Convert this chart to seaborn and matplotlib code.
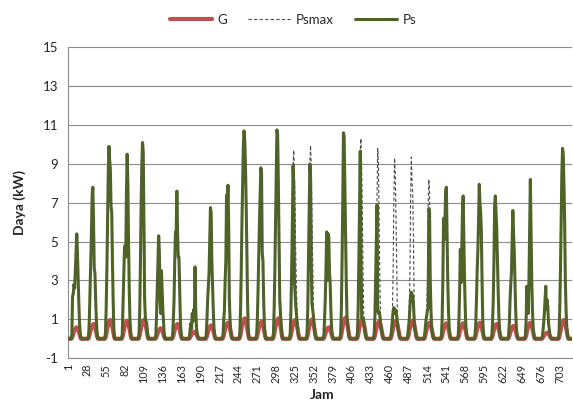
import numpy as np
import pandas as pd
import matplotlib
matplotlib.use("Agg")
import matplotlib.pyplot as plt
import seaborn as sns

# ---------------- data ----------------
N_DAYS = 30
DAY_START = 6          # first daylight hour (local) of the listed values

# Ps, daylight values per day (local hours 6..19), kW
ps_d00 = [0.2, 2.2, 2.3, 2.8, 2.6, 3.5, 4.5, 5.4, 4.4, 3.0, 1.8, 0.8, 0.3, 0]
ps_d01 = [0.2, 1.0, 2.5, 4.0, 5.5, 7.4, 7.8, 6.0, 3.6, 3.4, 2.0, 1.0, 0.3, 0]
ps_d02 = [0.3, 1.5, 3.5, 6.0, 8.5, 9.9, 9.2, 8.7, 6.8, 6.5, 4.0, 2.0, 0.5, 0]
ps_d03 = [0.2, 1.5, 3.0, 4.4, 4.8, 4.2, 7.5, 9.5, 8.0, 5.0, 2.5, 1.0, 0.3, 0]
ps_d04 = [0.2, 1.5, 4.0, 7.0, 9.0, 10.1, 9.6, 6.0, 2.0, 1.1, 0.9, 0.8, 0.3, 0]
ps_d05 = [0.2, 1.2, 2.5, 4.0, 5.3, 4.5, 2.0, 1.3, 3.5, 2.5, 1.5, 0.8, 0.2, 0]
ps_d06 = [0.2, 1.0, 2.0, 4.0, 5.5, 5.3, 7.6, 5.5, 4.2, 4.2, 2.5, 1.0, 0.3, 0]
ps_d07 = [0.1, 0.5, 0.8, 0.5, 1.3, 0.9, 1.5, 1.0, 3.7, 1.5, 0.6, 0.3, 0.1, 0]
ps_d08 = [0.2, 1.0, 2.0, 2.7, 3.4, 5.0, 6.75, 6.5, 4.0, 2.7, 1.5, 0.6, 0.2, 0]
ps_d09 = [0.2, 1.0, 1.5, 3.0, 4.0, 7.4, 6.5, 7.9, 6.0, 2.0, 1.0, 0.4, 0.1, 0]
ps_d10 = [0.3, 1.5, 3.5, 6.0, 8.0, 10.0, 10.7, 10.2, 9.0, 7.0, 4.5, 2.0, 0.5, 0]
ps_d11 = [0.2, 1.0, 2.5, 4.4, 6.0, 7.5, 8.8, 8.5, 4.4, 4.0, 2.0, 0.8, 0.2, 0]
ps_d12 = [0.3, 1.5, 3.5, 6.1, 8.5, 10.75, 10.5, 8.0, 5.0, 2.0, 1.3, 0.8, 0.2, 0]
ps_d13 = [0.3, 1.5, 3.5, 6.0, 8.9, 8.0, 3.0, 2.3, 1.6, 1.2, 0.8, 0.4, 0.1, 0]
ps_d14 = [0.3, 1.5, 4.0, 6.5, 9.0, 8.5, 4.0, 1.8, 1.5, 1.2, 0.8, 0.4, 0.1, 0]
ps_d15 = [0.2, 1.0, 2.0, 3.5, 5.5, 3.0, 5.4, 5.3, 3.5, 2.9, 1.5, 0.6, 0.2, 0]
ps_d16 = [0.3, 1.5, 4.0, 7.0, 10.6, 10.4, 8.0, 5.5, 3.0, 1.2, 0.8, 0.4, 0.1, 0]
ps_d17 = [0.3, 1.5, 4.0, 7.0, 9.65, 5.0, 1.1, 1.0, 1.1, 0.8, 0.6, 0.3, 0.1, 0]
ps_d18 = [0.3, 1.2, 3.0, 5.0, 6.9, 1.5, 1.3, 1.4, 1.2, 0.8, 0.5, 0.3, 0.1, 0]
ps_d19 = [0.2, 0.6, 1.0, 1.4, 1.6, 1.3, 1.5, 1.4, 1.2, 0.8, 0.5, 0.3, 0.1, 0]
ps_d20 = [0.2, 0.6, 1.0, 1.7, 2.3, 2.4, 2.3, 2.2, 1.8, 1.0, 0.5, 0.3, 0.1, 0]
ps_d21 = [0.2, 0.6, 1.0, 1.2, 1.5, 1.6, 6.7, 6.5, 3.0, 1.5, 0.6, 0.3, 0.1, 0]
ps_d22 = [0.2, 1.0, 3.0, 6.2, 5.1, 6.0, 7.6, 7.8, 5.3, 3.0, 1.5, 0.6, 0.2, 0]
ps_d23 = [0.2, 1.0, 2.5, 4.6, 2.9, 4.5, 6.5, 7.35, 5.0, 3.0, 1.5, 0.6, 0.2, 0]
ps_d24 = [0.2, 0.8, 2.0, 3.5, 4.5, 6.0, 7.95, 7.0, 6.5, 5.5, 3.0, 1.0, 0.3, 0]
ps_d25 = [0.2, 0.8, 2.0, 4.0, 6.9, 7.35, 6.5, 5.6, 4.0, 2.5, 1.2, 0.5, 0.1, 0]
ps_d26 = [0.2, 0.8, 2.0, 2.8, 3.4, 5.0, 6.6, 5.4, 4.5, 3.0, 1.5, 0.6, 0.2, 0]
ps_d27 = [0.2, 1.0, 2.7, 2.0, 1.3, 3.0, 5.6, 8.2, 5.6, 3.0, 1.5, 0.6, 0.2, 0]
ps_d28 = [0.1, 0.4, 0.8, 1.3, 2.0, 2.7, 1.5, 2.0, 1.6, 0.8, 0.5, 0.2, 0.1, 0]
ps_d29 = [0.3, 1.5, 3.5, 6.0, 8.5, 9.8, 9.5, 8.0, 6.0, 3.0, 1.5, 0.6, 0.2, 0]

# Psmax, on the days where it differs from Ps (other days Psmax == Ps)
psmax_d02 = [0.3, 1.5, 3.5, 6.0, 8.5, 9.9, 9.6, 9.4, 7.5, 6.5, 4.0, 2.0, 0.5, 0]
psmax_d04 = [0.2, 1.5, 4.0, 7.0, 9.0, 10.1, 9.6, 8.6, 5.0, 1.5, 0.9, 0.8, 0.3, 0]
psmax_d12 = [0.3, 1.5, 3.5, 6.1, 8.5, 10.75, 10.5, 8.5, 6.5, 4.5, 2.0, 0.8, 0.2, 0]
psmax_d13 = [0.3, 1.5, 3.5, 6.0, 8.9, 9.7, 8.5, 6.5, 4.0, 2.3, 1.2, 0.4, 0.1, 0]
psmax_d14 = [0.3, 1.5, 4.0, 6.5, 9.0, 9.95, 8.8, 6.5, 4.0, 1.8, 0.8, 0.4, 0.1, 0]
psmax_d17 = [0.3, 1.5, 4.0, 7.0, 9.65, 10.3, 9.0, 6.5, 3.5, 1.1, 0.6, 0.3, 0.1, 0]
psmax_d18 = [0.3, 1.2, 3.0, 5.0, 7.5, 9.8, 9.0, 6.0, 3.0, 1.2, 0.5, 0.3, 0.1, 0]
psmax_d19 = [0.2, 0.6, 1.5, 3.5, 7.0, 9.3, 8.5, 6.5, 4.0, 1.5, 0.5, 0.3, 0.1, 0]
psmax_d20 = [0.2, 0.6, 1.5, 3.5, 7.5, 9.35, 8.0, 7.5, 5.0, 2.0, 0.5, 0.3, 0.1, 0]
psmax_d21 = [0.2, 0.6, 1.0, 1.5, 3.0, 7.0, 8.2, 7.5, 4.0, 1.5, 0.6, 0.3, 0.1, 0]

# G: daily peak (kW) and its daylight profile (fraction of peak, local hours 6..19)
g_peak = [0.59, 0.76, 0.97, 0.93, 0.97, 0.54, 0.76, 0.36, 0.69, 0.83,
          1.05, 0.88, 1.05, 0.97, 1.0, 0.59, 1.08, 1.0, 0.88, 0.93,
          0.93, 0.83, 0.8, 0.8, 0.83, 0.76, 0.66, 0.83, 0.31, 0.97]
g_profile = [0.05, 0.2, 0.4, 0.6, 0.75, 0.88, 0.97, 1.0, 0.95, 0.82, 0.62, 0.4, 0.18, 0.03]

x_tick_labels = [str(v) for v in range(1, 704, 27)]
y_ticks = [-1, 1, 3, 5, 7, 9, 11, 13, 15]

# ---------------- assemble hourly series ----------------
ps_days = [globals()[f"ps_d{d:02d}"] for d in range(N_DAYS)]
psmax_days = [globals().get(f"psmax_d{d:02d}", ps_days[d]) for d in range(N_DAYS)]

hours = np.arange(1, N_DAYS * 24 + 1)
G = np.zeros(len(hours))
PS = np.zeros(len(hours))
PSMAX = np.zeros(len(hours))
for d in range(N_DAYS):
    for i in range(len(g_profile)):
        idx = d * 24 + DAY_START - 1 + i
        G[idx] = g_peak[d] * g_profile[i]
        PS[idx] = ps_days[d][i]
        PSMAX[idx] = psmax_days[d][i]

df = pd.DataFrame({"Jam": hours, "G": G, "Psmax": PSMAX, "Ps": PS})

# ---------------- plot ----------------
sns.set_style("white")
plt.rcParams["font.family"] = ["Lato", "DejaVu Sans"]

fig = plt.figure(figsize=(5.73, 4.01), dpi=100)
L, R, T, B = 68, 572, 47.3, 358.2
ax = fig.add_axes([L / 573, 1 - B / 401, (R - L) / 573, (B - T) / 401])

grid_c = "#8C8C8C"
for yv in y_ticks:
    ax.axhline(yv, color=grid_c, lw=0.8, zorder=0)

sns.lineplot(data=df, x="Jam", y="G", ax=ax, color="#C0504D", lw=3.0, label="G", zorder=3)
sns.lineplot(data=df, x="Jam", y="Psmax", ax=ax, color="#4A4A4A", lw=0.8,
             linestyle=(0, (3, 2)), label="Psmax", zorder=4)
sns.lineplot(data=df, x="Jam", y="Ps", ax=ax, color="#4F6228", lw=2.2, label="Ps", zorder=5)

ax.set_xlim(0.5, 720.5)
ax.set_ylim(-1, 15)
ax.set_yticks(y_ticks)
ax.set_yticklabels([str(v) for v in y_ticks], fontsize=9.5)
ax.set_xticks(list(range(1, 704, 27)))
ax.set_xticklabels(x_tick_labels, rotation=90, fontsize=7.8)

for s in ["top", "right"]:
    ax.spines[s].set_visible(False)
for s in ["left", "bottom"]:
    ax.spines[s].set_color(grid_c)
    ax.spines[s].set_linewidth(0.8)
ax.tick_params(axis="x", direction="inout", length=6, color=grid_c, width=0.8, pad=1)
ax.tick_params(axis="y", direction="out", length=4, color=grid_c, width=0.8, pad=3)

ax.set_xlabel("Jam", fontsize=10, fontweight="bold")
ax.set_ylabel("Daya (kW)", fontsize=10, fontweight="bold")
ax.xaxis.set_label_coords((322 - L) / (R - L), (B - 395) / (B - T))
ax.xaxis.label.set_va("center")
ax.yaxis.set_label_coords((20 - L) / (R - L), 0.5)
ax.yaxis.label.set_va("center")

ax.legend(loc="center", bbox_to_anchor=(293 / 573, 1 - 20 / 401),
          bbox_transform=fig.transFigure, ncol=3, frameon=False,
          fontsize=9.5, handlelength=3.2, columnspacing=1.6, handletextpad=0.4)

fig.savefig("out.png", dpi=100)
